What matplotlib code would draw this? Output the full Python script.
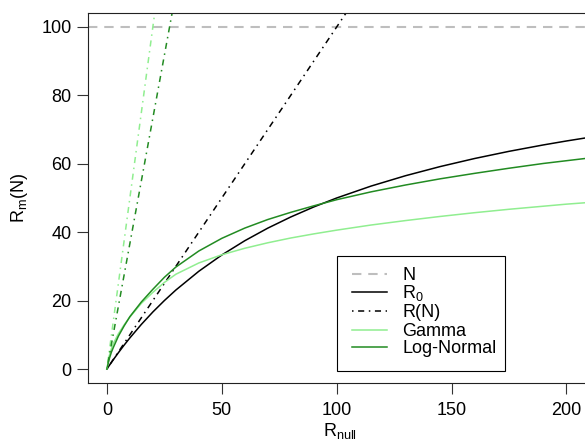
import matplotlib
matplotlib.use('Agg')
from matplotlib import pyplot as plt
from matplotlib.lines import Line2D
from matplotlib.patches import Rectangle

plt.rcParams['font.family'] = ['Liberation Sans', 'DejaVu Sans']
plt.rcParams['mathtext.fontset'] = 'custom'
plt.rcParams['mathtext.rm'] = 'Liberation Sans'
plt.rcParams['mathtext.it'] = 'Liberation Sans'

# values
r_null = [0, 1, 2, 3, 5, 7.5, 10, 15, 20, 25, 30, 40, 50, 60, 70, 80, 90, 100,
          115, 130, 145, 160, 175, 190, 200, 210]
r0 = [0, 0.99, 1.96, 2.91, 4.76, 6.98, 9.09, 13.04, 16.67, 20.0, 23.08, 28.57,
      33.33, 37.5, 41.18, 44.44, 47.37, 50.0, 53.49, 56.52, 59.18, 61.54, 63.64,
      65.52, 66.67, 67.74]
gamma = [0, 3.8, 6.0, 7.7, 10.3, 12.9, 15.2, 19.2, 22.4, 25.3, 27.7, 31.0,
         33.4, 35.3, 36.9, 38.3, 39.5, 40.6, 42.1, 43.4, 44.6, 45.7, 46.7, 47.6,
         48.2, 48.7]
lognormal = [0, 2.9, 5.0, 6.6, 9.6, 12.6, 15.3, 19.6, 23.3, 26.8, 29.8, 34.5,
             38.2, 41.2, 43.7, 45.8, 47.7, 49.5, 51.8, 53.8, 55.6, 57.2, 58.7,
             60.1, 60.9, 61.7]

n_value = 100
rn_x = [0, 110]
rn_y = [0, 110]
rn_gamma_x = [0, 22]
rn_gamma_y = [0, 110]
rn_lognormal_x = [0, 30]
rn_lognormal_y = [0, 110]

legend_labels = ['N', r'$\mathrm{R_0}$', 'R(N)', 'Gamma', 'Log-Normal']

dotdash = (0, (1, 3, 4, 3))
n_dash = (0, (4.5, 3.3))
light_green = '#90EE90'
dark_green = '#228B22'
FS = 13


def px(x, y):
    # figure pixel (from top-left) -> figure fraction
    return x / 585, 1 - y / 442


def main():
    fig = plt.figure(figsize=(5.85, 4.42), dpi=100)
    ax = fig.add_axes([0.1509, 0.1342, 0.859, 0.8357])

    ax.axhline(n_value, color='#BEBEBE', lw=1.5, linestyle=n_dash)
    ax.plot(r_null, r0, color='black', lw=1.1)
    ax.plot(rn_x, rn_y, color='black', lw=1.1, linestyle=dotdash)
    ax.plot(r_null, gamma, color=light_green, lw=1.1)
    ax.plot(r_null, lognormal, color=dark_green, lw=1.1)
    ax.plot(rn_gamma_x, rn_gamma_y, color=light_green, lw=1.1, linestyle=dotdash)
    ax.plot(rn_lognormal_x, rn_lognormal_y, color=dark_green, lw=1.1, linestyle=dotdash)

    ax.set_xlim(-8.1, 210.6)
    ax.set_ylim(-4, 104)
    ax.set_xticks([0, 50, 100, 150, 200])
    ax.set_yticks([0, 20, 40, 60, 80, 100])
    ax.tick_params(labelsize=FS, length=8, width=0.8, color='#333333')
    ax.tick_params(axis='x', pad=6)
    ax.tick_params(axis='y', pad=4)
    for s in ax.spines.values():
        s.set_linewidth(0.8)
        s.set_color('#222222')

    ax.set_xlabel(r'$\mathrm{R_{null}}$', fontsize=FS, labelpad=1)
    ax.set_ylabel(r'$\mathrm{R_m(N)}$', fontsize=FS, labelpad=8)

    # legend box drawn by hand, R style
    styles = [('#BEBEBE', n_dash, 1.5), ('black', '-', 1.1), ('black', dotdash, 1.1),
              (light_green, '-', 1.1), (dark_green, '-', 1.1)]
    rows = [274, 292, 311, 330, 347]
    x0, y0 = px(337, 371)
    x1, y1 = px(505, 256)
    fig.add_artist(Rectangle((x0, y0), x1 - x0, y1 - y0, transform=fig.transFigure,
                             facecolor='white', edgecolor='black', lw=0.8, zorder=5))
    for label, (col, ls, lw), ry in zip(legend_labels, styles, rows):
        (lx0, ly), (lx1, _) = px(352, ry), px(387, ry)
        fig.add_artist(Line2D([lx0, lx1], [ly, ly], transform=fig.transFigure,
                              color=col, linestyle=ls, lw=lw, zorder=6))
        tx, ty = px(402, ry + 6)
        fig.text(tx, ty, label, fontsize=FS, ha='left', va='baseline', zorder=7)

    fig.savefig('out.png', dpi=100)


main()
